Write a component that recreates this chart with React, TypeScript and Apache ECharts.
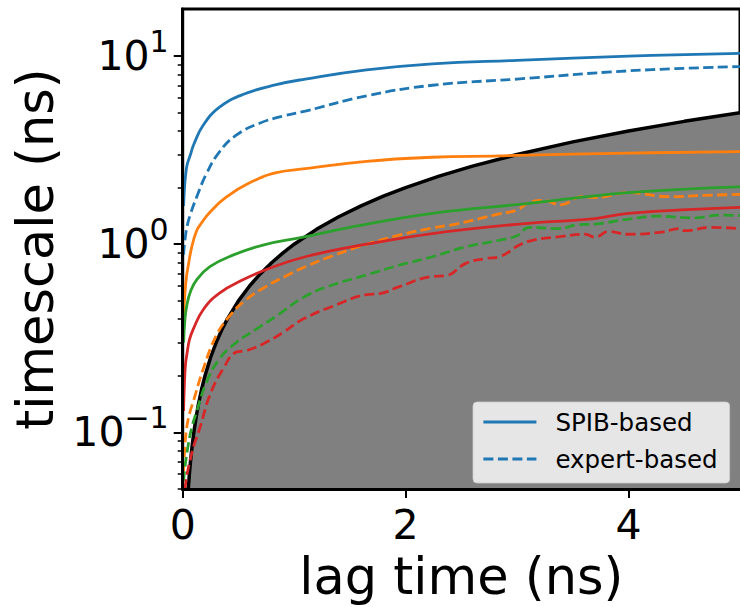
import React, { useEffect, useRef } from "react";
import * as echarts from "echarts";

const FONT = "DejaVu Sans";

const xTicks = [0, 2, 4];
const yMajorTicks = [0.1, 1, 10];
const yMinorTicks = [0.05, 0.06, 0.07, 0.08, 0.09, 0.2, 0.3, 0.4, 0.5, 0.6, 0.7, 0.8, 0.9, 2, 3, 4, 5, 6, 7, 8, 9];
const legendNames = ["SPIB-based", "expert-based"];

// boundary: timescale equal to lag time
const diagonal = [
  [0.05, 0.05], [0.06, 0.06], [0.07, 0.07], [0.08, 0.08], [0.09, 0.09], [0.1, 0.1],
  [0.12, 0.12], [0.14, 0.14], [0.17, 0.17], [0.2, 0.2], [0.25, 0.25], [0.3, 0.3],
  [0.35, 0.35], [0.4, 0.4], [0.5, 0.5], [0.6, 0.6], [0.7, 0.7], [0.8, 0.8], [0.9, 0.9],
  [1, 1], [1.2, 1.2], [1.4, 1.4], [1.6, 1.6], [1.8, 1.8], [2, 2], [2.3, 2.3], [2.6, 2.6],
  [3, 3], [3.5, 3.5], [4, 4], [4.5, 4.5], [5, 5],
];

const blueSolid = [
  [0.008, 1.6], [0.015, 1.95], [0.025, 2.3], [0.04, 2.65], [0.07, 3.0], [0.1, 3.4],
  [0.185, 4.3], [0.33, 5.35], [0.54, 6.25], [0.84, 7.05],
  [1.1, 7.55], [1.65, 8.45], [2.24, 9.1], [3.0, 9.5], [4.0, 10.0], [5.0, 10.35],
];
const blueDashed = [
  [0.008, 0.88], [0.02, 1.05], [0.04, 1.25], [0.07, 1.45], [0.125, 1.78], [0.21, 2.35],
  [0.33, 3.1], [0.48, 3.8], [0.69, 4.4], [0.9, 4.8], [1.1, 5.1], [1.65, 6.15],
  [2.24, 7.0], [3.0, 7.55], [4.0, 8.35], [5.0, 8.8],
];
const orangeSolid = [
  [0.008, 0.42], [0.02, 0.55], [0.035, 0.68], [0.05, 0.77], [0.08, 0.96], [0.125, 1.18],
  [0.17, 1.3], [0.244, 1.48], [0.39, 1.78], [0.6, 2.12], [0.84, 2.4], [1.1, 2.52],
  [1.65, 2.76], [2.24, 2.9], [2.84, 2.95], [3.0, 2.97], [4.0, 3.05], [5.0, 3.11],
];
const greenSolid = [
  [0.008, 0.3], [0.02, 0.4], [0.036, 0.47], [0.07, 0.56], [0.125, 0.647], [0.244, 0.76],
  [0.45, 0.875], [0.72, 0.99], [1.08, 1.09], [1.5, 1.23], [2.24, 1.46], [3.02, 1.63],
  [4.0, 1.88], [5.0, 2.02],
];
const redSolid = [
  [0.008, 0.13], [0.015, 0.18], [0.025, 0.23], [0.036, 0.256], [0.06, 0.31], [0.095, 0.354],
  [0.185, 0.45], [0.33, 0.55], [0.54, 0.647], [0.78, 0.745], [1.1, 0.858], [1.65, 1.0],
  [2.24, 1.14], [3.02, 1.28], [3.7, 1.37], [4.0, 1.46], [5.0, 1.57],
];
const orangeDashed = [
  [0.008, 0.062], [0.02, 0.085], [0.036, 0.106], [0.06, 0.125], [0.095, 0.146], [0.185, 0.218],
  [0.3, 0.326], [0.42, 0.415], [0.57, 0.508], [0.75, 0.597], [0.93, 0.68], [1.1, 0.76],
  [1.35, 0.87], [1.65, 1.0], [1.95, 1.12], [2.24, 1.22], [2.45, 1.28], [2.84, 1.45],
  [3.0, 1.52], [3.11, 1.67], [3.24, 1.71], [3.39, 1.62], [3.58, 1.79], [3.7, 1.77],
  [4.0, 1.88], [4.36, 1.79], [4.7, 1.82], [5.0, 1.84],
];
const greenDashed = [
  [0.008, 0.055], [0.02, 0.065], [0.05, 0.086], [0.085, 0.108], [0.125, 0.129], [0.214, 0.185],
  [0.33, 0.246], [0.48, 0.3], [0.66, 0.354], [0.84, 0.415], [1.1, 0.529], [1.35, 0.609],
  [1.65, 0.687], [1.95, 0.776], [2.24, 0.858], [2.54, 0.968], [2.84, 1.05], [3.0, 1.11],
  [3.11, 1.23], [3.37, 1.21], [3.55, 1.27], [3.7, 1.28], [4.0, 1.36], [4.27, 1.41],
  [4.57, 1.38], [4.83, 1.43], [5.0, 1.42],
];
const redDashed = [
  [0.02, 0.05], [0.04, 0.06], [0.065, 0.0705], [0.1, 0.085], [0.155, 0.106], [0.244, 0.158],
  [0.363, 0.218], [0.48, 0.267], [0.57, 0.272], [0.72, 0.295], [0.9, 0.34], [1.08, 0.4],
  [1.35, 0.469], [1.65, 0.54], [1.77, 0.547], [1.95, 0.597], [2.24, 0.674], [2.36, 0.68],
  [2.54, 0.791], [2.72, 0.84], [2.84, 0.858], [3.02, 0.99], [3.14, 1.05], [3.4, 1.1],
  [3.61, 1.13], [3.7, 1.09], [3.82, 1.17], [4.0, 1.13], [4.3, 1.16], [4.45, 1.21],
  [4.5, 1.18], [4.74, 1.23], [5.0, 1.21],
];

const BLUE = "#1f77b4";
const ORANGE = "#ff7f0e";
const GREEN = "#2ca02c";
const RED = "#d62728";
const DASH = [10, 4.5];

function lineSeries(name: string, data: number[][], color: string, dashed: boolean) {
  return {
    name,
    type: "line",
    data,
    showSymbol: false,
    symbol: "circle",
    symbolSize: 0,
    smooth: 0.45,
    lineStyle: { color, width: 2.8, type: dashed ? DASH : "solid" },
    itemStyle: { color },
    z: 3,
  };
}

export default function App() {
  const ref = useRef<HTMLDivElement>(null);
  useEffect(() => {
    if (!ref.current) return;
    const chart = echarts.init(ref.current, null, { renderer: "svg" });
    const superscript = (v: number) => {
      const e = Math.round(Math.log10(v));
      return `{b|10}{s|${e < 0 ? "\u2212" : ""}${Math.abs(e)}}`;
    };
    chart.setOption({
      animation: false,
      backgroundColor: "#ffffff",
      grid: {
        left: 182.7,
        top: 9,
        right: -1.5,
        bottom: 111.3,
        show: true,
        borderColor: "#000",
        borderWidth: 3,
        backgroundColor: "transparent",
      },
      legend: {
        data: legendNames,
        orient: "vertical",
        left: 473,
        top: 402,
        padding: [6, 12, 10, 9],
        itemGap: 9,
        itemWidth: 53,
        itemHeight: 14,
        selectedMode: false,
        backgroundColor: "rgba(255,255,255,0.8)",
        borderColor: "rgba(204,204,204,0.8)",
        borderWidth: 1,
        borderRadius: 4,
        lineStyle: { width: 2.8 },
        itemStyle: { opacity: 0, color: "rgba(0,0,0,0)", borderWidth: 0 },
        textStyle: {
          fontFamily: FONT,
          fontSize: 24.5,
          color: "#000",
          lineHeight: 28,
          padding: [0, 0, 0, 14],
        },
        z: 20,
      },
      xAxis: {
        type: "value",
        min: 0,
        max: 5,
        interval: 2,
        z: 10,
        name: "lag time (ns)",
        nameLocation: "middle",
        nameGap: 62,
        nameTextStyle: { fontFamily: FONT, fontSize: 51, color: "#000" },
        axisLine: { show: true, lineStyle: { color: "#000", width: 3 } },
        axisTick: { show: true, inside: false, length: 9, lineStyle: { color: "#000", width: 2 }, customValues: xTicks },
        axisLabel: {
          fontFamily: FONT,
          fontSize: 41,
          color: "#000",
          margin: 15,
          customValues: xTicks,
        },
        splitLine: { show: false },
      },
      yAxis: [
        {
          type: "log",
          logBase: 10,
          min: 0.05,
          max: 17.8,
          z: 10,
          name: "timescale (ns)",
          nameLocation: "middle",
          nameRotate: 90,
          nameGap: 122,
          nameTextStyle: { fontFamily: FONT, fontSize: 51, color: "#000" },
          axisLine: { show: true, lineStyle: { color: "#000", width: 3 } },
          axisTick: { show: true, inside: false, length: 9, lineStyle: { color: "#000", width: 2 }, customValues: yMajorTicks },
          axisLabel: {
            customValues: yMajorTicks,
            margin: 14,
            formatter: (v: number) => superscript(v),
            rich: {
              b: { fontFamily: FONT, fontSize: 41, color: "#000", lineHeight: 41 },
              s: { fontFamily: FONT, fontSize: 30, color: "#000", lineHeight: 30, padding: [0, 0, 30, 0] },
            },
          },
          splitLine: { show: false },
          minorTick: { show: false },
        },
        {
          type: "log",
          logBase: 10,
          min: 0.05,
          max: 17.8,
          position: "left",
          z: 10,
          axisLine: { show: false },
          axisTick: { show: true, inside: false, length: 5, lineStyle: { color: "#000", width: 1.5 }, customValues: yMinorTicks },
          axisLabel: { show: false },
          splitLine: { show: false },
        },
      ],
      series: [
        {
          name: "boundary",
          type: "line",
          data: diagonal,
          showSymbol: false,
          symbol: "none",
          lineStyle: { color: "#000", width: 3.5 },
          areaStyle: { color: "#808080", opacity: 1, origin: "start" },
          z: 2,
        },
        lineSeries("SPIB-based", blueSolid, BLUE, false),
        lineSeries("expert-based", blueDashed, BLUE, true),
        lineSeries("orange SPIB", orangeSolid, ORANGE, false),
        lineSeries("orange expert", orangeDashed, ORANGE, true),
        lineSeries("green SPIB", greenSolid, GREEN, false),
        lineSeries("green expert", greenDashed, GREEN, true),
        lineSeries("red SPIB", redSolid, RED, false),
        lineSeries("red expert", redDashed, RED, true),
      ],
    });
    return () => chart.dispose();
  }, []);
  return <div ref={ref} style={{ width: 740, height: 607, position: "absolute", left: 0, top: 0 }} />;
}
